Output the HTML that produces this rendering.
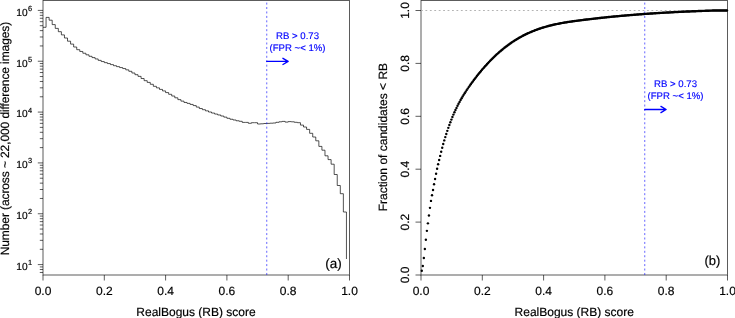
<!DOCTYPE html>
<html><head><meta charset="utf-8"><style>
html,body{margin:0;padding:0;background:#fff;width:735px;height:318px;overflow:hidden}
svg{display:block;will-change:transform;text-rendering:geometricPrecision}
</style></head><body>
<svg width="735" height="318" viewBox="0 0 735 318">
<rect width="735" height="318" fill="#fff"/>
<rect x="43.0" y="0.4" width="306.5" height="274.6" stroke="#000" stroke-width="0.8" stroke-opacity="0.8" fill="none"/>
<path d="M43.00,275.0 V280.5 M104.30,275.0 V280.5 M165.60,275.0 V280.5 M226.90,275.0 V280.5 M288.20,275.0 V280.5 M349.50,275.0 V280.5 M37.8,264.60 H43.0 M37.8,213.76 H43.0 M37.8,162.92 H43.0 M37.8,112.08 H43.0 M37.8,61.24 H43.0 M37.8,10.40 H43.0 M39.8,272.48 H43.0 M39.8,269.53 H43.0 M39.8,266.93 H43.0 M39.8,249.30 H43.0 M39.8,240.34 H43.0 M39.8,233.99 H43.0 M39.8,229.06 H43.0 M39.8,225.04 H43.0 M39.8,221.64 H43.0 M39.8,218.69 H43.0 M39.8,216.09 H43.0 M39.8,198.46 H43.0 M39.8,189.50 H43.0 M39.8,183.15 H43.0 M39.8,178.22 H43.0 M39.8,174.20 H43.0 M39.8,170.80 H43.0 M39.8,167.85 H43.0 M39.8,165.25 H43.0 M39.8,147.62 H43.0 M39.8,138.66 H43.0 M39.8,132.31 H43.0 M39.8,127.38 H43.0 M39.8,123.36 H43.0 M39.8,119.96 H43.0 M39.8,117.01 H43.0 M39.8,114.41 H43.0 M39.8,96.78 H43.0 M39.8,87.82 H43.0 M39.8,81.47 H43.0 M39.8,76.54 H43.0 M39.8,72.52 H43.0 M39.8,69.12 H43.0 M39.8,66.17 H43.0 M39.8,63.57 H43.0 M39.8,45.94 H43.0 M39.8,36.98 H43.0 M39.8,30.63 H43.0 M39.8,25.70 H43.0 M39.8,21.68 H43.0 M39.8,18.28 H43.0 M39.8,15.33 H43.0 M39.8,12.73 H43.0" stroke="#000" stroke-width="0.8" stroke-opacity="0.8" fill="none"/>
<path d="M43.00,27.30 L46.06,27.30 L46.06,17.40 L49.13,17.40 L49.13,20.20 L52.20,20.20 L52.20,24.60 L55.26,24.60 L55.26,28.40 L58.33,28.40 L58.33,31.70 L61.39,31.70 L61.39,34.90 L64.45,34.90 L64.45,38.00 L67.52,38.00 L67.52,41.20 L70.59,41.20 L70.59,44.10 L73.65,44.10 L73.65,47.00 L76.72,47.00 L76.72,49.70 L79.78,49.70 L79.78,51.46 L82.84,51.46 L82.84,53.24 L85.91,53.24 L85.91,54.82 L88.97,54.82 L88.97,56.31 L92.04,56.31 L92.04,57.60 L95.10,57.60 L95.10,58.95 L98.17,58.95 L98.17,60.36 L101.23,60.36 L101.23,61.55 L104.30,61.55 L104.30,62.65 L107.36,62.65 L107.36,63.57 L110.43,63.57 L110.43,64.61 L113.50,64.61 L113.50,65.71 L116.56,65.71 L116.56,66.63 L119.62,66.63 L119.62,67.57 L122.69,67.57 L122.69,68.55 L125.75,68.55 L125.75,69.85 L128.82,69.85 L128.82,71.30 L131.88,71.30 L131.88,73.01 L134.95,73.01 L134.95,74.70 L138.01,74.70 L138.01,76.36 L141.08,76.36 L141.08,78.53 L144.14,78.53 L144.14,80.68 L147.21,80.68 L147.21,82.40 L150.27,82.40 L150.27,84.29 L153.34,84.29 L153.34,86.32 L156.41,86.32 L156.41,87.87 L159.47,87.87 L159.47,89.40 L162.53,89.40 L162.53,90.93 L165.60,90.93 L165.60,92.59 L168.66,92.59 L168.66,94.31 L171.73,94.31 L171.73,96.03 L174.79,96.03 L174.79,97.80 L177.86,97.80 L177.86,99.64 L180.93,99.64 L180.93,101.13 L183.99,101.13 L183.99,102.46 L187.06,102.46 L187.06,103.38 L190.12,103.38 L190.12,104.43 L193.19,104.43 L193.19,105.59 L196.25,105.59 L196.25,107.09 L199.31,107.09 L199.31,108.52 L202.38,108.52 L202.38,109.69 L205.44,109.69 L205.44,110.85 L208.51,110.85 L208.51,112.01 L211.57,112.01 L211.57,113.06 L214.64,113.06 L214.64,114.05 L217.70,114.05 L217.70,114.97 L220.77,114.97 L220.77,116.03 L223.84,116.03 L223.84,117.14 L226.90,117.14 L226.90,118.30 L229.97,118.30 L229.97,119.26 L233.03,119.26 L233.03,119.99 L236.09,119.99 L236.09,120.78 L239.16,120.78 L239.16,121.30 L242.22,121.30 L242.22,122.40 L245.29,122.40 L245.29,122.40 L248.35,122.40 L248.35,123.30 L251.42,123.30 L251.42,122.70 L254.48,122.70 L254.48,122.70 L257.55,122.70 L257.55,124.00 L260.62,124.00 L260.62,123.80 L263.68,123.80 L263.68,123.50 L266.75,123.50 L266.75,123.40 L269.81,123.40 L269.81,123.20 L272.88,123.20 L272.88,123.00 L275.94,123.00 L275.94,122.30 L279.00,122.30 L279.00,121.80 L282.07,121.80 L282.07,121.40 L285.13,121.40 L285.13,122.10 L288.20,122.10 L288.20,121.60 L291.26,121.60 L291.26,121.80 L294.33,121.80 L294.33,122.30 L297.39,122.30 L297.39,122.70 L300.46,122.70 L300.46,125.10 L303.52,125.10 L303.52,127.00 L306.59,127.00 L306.59,129.40 L309.65,129.40 L309.65,133.30 L312.72,133.30 L312.72,137.00 L315.78,137.00 L315.78,140.80 L318.85,140.80 L318.85,146.40 L321.92,146.40 L321.92,150.20 L324.98,150.20 L324.98,155.80 L328.05,155.80 L328.05,159.60 L331.11,159.60 L331.11,164.20 L334.18,164.20 L334.18,174.50 L337.24,174.50 L337.24,185.50 L340.31,185.50 L340.31,193.70 L343.37,193.70 L343.37,212.00 L346.44,212.00 L346.44,259.00" stroke="#000" stroke-width="0.8" fill="none" opacity="0.85"/>
<line x1="266.75" y1="0.4" x2="266.75" y2="275.0" stroke="#0000ff" stroke-width="0.85" stroke-opacity="0.72" stroke-dasharray="2.0 2.432" stroke-dashoffset="2.23"/>
<g font-family="Liberation Sans, sans-serif" stroke="#000" stroke-width="0.22" stroke-opacity="0.8" font-size="12" fill="#000"><text x="43.00" y="294.6" text-anchor="middle">0.0</text><text x="104.30" y="294.6" text-anchor="middle">0.2</text><text x="165.60" y="294.6" text-anchor="middle">0.4</text><text x="226.90" y="294.6" text-anchor="middle">0.6</text><text x="288.20" y="294.6" text-anchor="middle">0.8</text><text x="349.50" y="294.6" text-anchor="middle">1.0</text><text x="27.6" y="269.90" text-anchor="end" font-size="10.2">10</text><text x="28.1" y="265.10" font-size="7.4">1</text><text x="27.6" y="219.06" text-anchor="end" font-size="10.2">10</text><text x="28.1" y="214.26" font-size="7.4">2</text><text x="27.6" y="168.22" text-anchor="end" font-size="10.2">10</text><text x="28.1" y="163.42" font-size="7.4">3</text><text x="27.6" y="117.38" text-anchor="end" font-size="10.2">10</text><text x="28.1" y="112.58" font-size="7.4">4</text><text x="27.6" y="66.54" text-anchor="end" font-size="10.2">10</text><text x="28.1" y="61.74" font-size="7.4">5</text><text x="27.6" y="15.70" text-anchor="end" font-size="10.2">10</text><text x="28.1" y="10.90" font-size="7.4">6</text></g>
<text x="196" y="315.6" text-anchor="middle" font-family="Liberation Sans, sans-serif" stroke="#000" stroke-width="0.22" stroke-opacity="0.8" font-size="12">RealBogus (RB) score</text>
<text transform="translate(9.3,138.6) rotate(-90)" text-anchor="middle" font-family="Liberation Sans, sans-serif" stroke="#000" stroke-width="0.22" stroke-opacity="0.8" font-size="12" letter-spacing="-0.1">Number (across ~ 22,000 difference images)</text>
<text x="341.8" y="268.0" text-anchor="end" font-family="Liberation Sans, sans-serif" stroke="#000" stroke-width="0.22" stroke-opacity="0.8" font-size="13.5">(a)</text>
<g font-family="Liberation Sans, sans-serif" font-size="9.6" fill="#0000ff" stroke="#0000ff" stroke-width="0.15" text-anchor="middle"><text x="297.55" y="38.9">RB &gt; 0.73</text><text x="297.55" y="50.8">(FPR ~&lt; 1%)</text></g><path d="M266.75,61.4 H287.94 M282.94,58.3 L288.14,61.4 L282.94,64.5" stroke="#0000ff" stroke-width="1.35" stroke-linejoin="round" stroke-linecap="round" fill="none"/>
<rect x="421.0" y="0.4" width="306.5" height="274.6" stroke="#000" stroke-width="0.8" stroke-opacity="0.8" fill="none"/>
<path d="M421.00,275.0 V280.5 M415.5,275.00 H421.0 M482.30,275.0 V280.5 M415.5,222.10 H421.0 M543.60,275.0 V280.5 M415.5,169.20 H421.0 M604.90,275.0 V280.5 M415.5,116.30 H421.0 M666.20,275.0 V280.5 M415.5,63.40 H421.0 M727.50,275.0 V280.5 M415.5,10.50 H421.0" stroke="#000" stroke-width="0.8" stroke-opacity="0.8" fill="none"/>
<line x1="421.0" y1="10.50" x2="727.5" y2="10.50" stroke="#aaa" stroke-width="0.9" stroke-dasharray="1.8 2.632" stroke-dashoffset="0.0"/>
<line x1="644.75" y1="0.4" x2="644.75" y2="275.0" stroke="#0000ff" stroke-width="0.85" stroke-opacity="0.72" stroke-dasharray="2.0 2.432" stroke-dashoffset="2.23"/>
<g fill="#000"><circle cx="421.80" cy="270.80" r="1.2"/><circle cx="422.82" cy="266.06" r="1.2"/><circle cx="423.84" cy="258.00" r="1.2"/><circle cx="424.86" cy="249.04" r="1.2"/><circle cx="425.88" cy="239.75" r="1.2"/><circle cx="426.90" cy="230.87" r="1.2"/><circle cx="427.92" cy="223.37" r="1.2"/><circle cx="428.94" cy="215.52" r="1.2"/><circle cx="429.97" cy="207.85" r="1.2"/><circle cx="430.99" cy="200.88" r="1.2"/><circle cx="432.01" cy="195.31" r="1.2"/><circle cx="433.03" cy="190.04" r="1.2"/><circle cx="434.05" cy="184.30" r="1.2"/><circle cx="435.07" cy="178.97" r="1.2"/><circle cx="436.09" cy="173.76" r="1.2"/><circle cx="437.11" cy="168.68" r="1.2"/><circle cx="438.13" cy="164.22" r="1.2"/><circle cx="439.15" cy="160.02" r="1.2"/><circle cx="440.17" cy="155.89" r="1.2"/><circle cx="441.19" cy="151.81" r="1.2"/><circle cx="442.21" cy="147.78" r="1.2"/><circle cx="443.23" cy="143.93" r="1.2"/><circle cx="444.26" cy="140.40" r="1.2"/><circle cx="445.28" cy="137.12" r="1.2"/><circle cx="446.30" cy="134.00" r="1.2"/><circle cx="447.32" cy="130.86" r="1.2"/><circle cx="448.34" cy="127.86" r="1.2"/><circle cx="449.36" cy="124.99" r="1.2"/><circle cx="450.38" cy="122.23" r="1.2"/><circle cx="451.40" cy="119.59" r="1.2"/><circle cx="452.42" cy="117.06" r="1.2"/><circle cx="453.44" cy="114.62" r="1.2"/><circle cx="454.46" cy="112.29" r="1.2"/><circle cx="455.48" cy="110.04" r="1.2"/><circle cx="456.50" cy="107.88" r="1.2"/><circle cx="457.52" cy="105.81" r="1.2"/><circle cx="458.55" cy="103.81" r="1.2"/><circle cx="459.57" cy="101.89" r="1.2"/><circle cx="460.59" cy="100.04" r="1.2"/><circle cx="461.61" cy="98.25" r="1.2"/><circle cx="462.63" cy="96.51" r="1.2"/><circle cx="463.65" cy="94.84" r="1.2"/><circle cx="464.67" cy="93.21" r="1.2"/><circle cx="465.69" cy="91.63" r="1.2"/><circle cx="466.71" cy="90.08" r="1.2"/><circle cx="467.73" cy="88.58" r="1.2"/><circle cx="468.75" cy="87.10" r="1.2"/><circle cx="469.77" cy="85.65" r="1.2"/><circle cx="470.79" cy="84.22" r="1.2"/><circle cx="471.81" cy="82.82" r="1.2"/><circle cx="472.84" cy="81.43" r="1.2"/><circle cx="473.86" cy="80.06" r="1.2"/><circle cx="474.88" cy="78.71" r="1.2"/><circle cx="475.90" cy="77.38" r="1.2"/><circle cx="476.92" cy="76.07" r="1.2"/><circle cx="477.94" cy="74.78" r="1.2"/><circle cx="478.96" cy="73.51" r="1.2"/><circle cx="479.98" cy="72.26" r="1.2"/><circle cx="481.00" cy="71.03" r="1.2"/><circle cx="482.02" cy="69.82" r="1.2"/><circle cx="483.04" cy="68.62" r="1.2"/><circle cx="484.06" cy="67.45" r="1.2"/><circle cx="485.08" cy="66.29" r="1.2"/><circle cx="486.10" cy="65.16" r="1.2"/><circle cx="487.12" cy="64.04" r="1.2"/><circle cx="488.15" cy="62.94" r="1.2"/><circle cx="489.17" cy="61.86" r="1.2"/><circle cx="490.19" cy="60.79" r="1.2"/><circle cx="491.21" cy="59.75" r="1.2"/><circle cx="492.23" cy="58.72" r="1.2"/><circle cx="493.25" cy="57.71" r="1.2"/><circle cx="494.27" cy="56.72" r="1.2"/><circle cx="495.29" cy="55.75" r="1.2"/><circle cx="496.31" cy="54.79" r="1.2"/><circle cx="497.33" cy="53.86" r="1.2"/><circle cx="498.35" cy="52.94" r="1.2"/><circle cx="499.37" cy="52.03" r="1.2"/><circle cx="500.39" cy="51.15" r="1.2"/><circle cx="501.41" cy="50.28" r="1.2"/><circle cx="502.44" cy="49.43" r="1.2"/><circle cx="503.46" cy="48.60" r="1.2"/><circle cx="504.48" cy="47.78" r="1.2"/><circle cx="505.50" cy="46.98" r="1.2"/><circle cx="506.52" cy="46.20" r="1.2"/><circle cx="507.54" cy="45.43" r="1.2"/><circle cx="508.56" cy="44.68" r="1.2"/><circle cx="509.58" cy="43.95" r="1.2"/><circle cx="510.60" cy="43.23" r="1.2"/><circle cx="511.62" cy="42.53" r="1.2"/><circle cx="512.64" cy="41.84" r="1.2"/><circle cx="513.66" cy="41.17" r="1.2"/><circle cx="514.68" cy="40.52" r="1.2"/><circle cx="515.70" cy="39.88" r="1.2"/><circle cx="516.73" cy="39.25" r="1.2"/><circle cx="517.75" cy="38.64" r="1.2"/><circle cx="518.77" cy="38.05" r="1.2"/><circle cx="519.79" cy="37.46" r="1.2"/><circle cx="520.81" cy="36.90" r="1.2"/><circle cx="521.83" cy="36.34" r="1.2"/><circle cx="522.85" cy="35.80" r="1.2"/><circle cx="523.87" cy="35.27" r="1.2"/><circle cx="524.89" cy="34.76" r="1.2"/><circle cx="525.91" cy="34.26" r="1.2"/><circle cx="526.93" cy="33.77" r="1.2"/><circle cx="527.95" cy="33.29" r="1.2"/><circle cx="528.97" cy="32.83" r="1.2"/><circle cx="529.99" cy="32.37" r="1.2"/><circle cx="531.01" cy="31.93" r="1.2"/><circle cx="532.04" cy="31.50" r="1.2"/><circle cx="533.06" cy="31.08" r="1.2"/><circle cx="534.08" cy="30.68" r="1.2"/><circle cx="535.10" cy="30.28" r="1.2"/><circle cx="536.12" cy="29.90" r="1.2"/><circle cx="537.14" cy="29.52" r="1.2"/><circle cx="538.16" cy="29.16" r="1.2"/><circle cx="539.18" cy="28.80" r="1.2"/><circle cx="540.20" cy="28.46" r="1.2"/><circle cx="541.22" cy="28.12" r="1.2"/><circle cx="542.24" cy="27.79" r="1.2"/><circle cx="543.26" cy="27.48" r="1.2"/><circle cx="544.28" cy="27.17" r="1.2"/><circle cx="545.30" cy="26.87" r="1.2"/><circle cx="546.33" cy="26.58" r="1.2"/><circle cx="547.35" cy="26.30" r="1.2"/><circle cx="548.37" cy="26.02" r="1.2"/><circle cx="549.39" cy="25.76" r="1.2"/><circle cx="550.41" cy="25.50" r="1.2"/><circle cx="551.43" cy="25.25" r="1.2"/><circle cx="552.45" cy="25.00" r="1.2"/><circle cx="553.47" cy="24.76" r="1.2"/><circle cx="554.49" cy="24.53" r="1.2"/><circle cx="555.51" cy="24.31" r="1.2"/><circle cx="556.53" cy="24.09" r="1.2"/><circle cx="557.55" cy="23.88" r="1.2"/><circle cx="558.57" cy="23.68" r="1.2"/><circle cx="559.59" cy="23.48" r="1.2"/><circle cx="560.62" cy="23.28" r="1.2"/><circle cx="561.64" cy="23.09" r="1.2"/><circle cx="562.66" cy="22.91" r="1.2"/><circle cx="563.68" cy="22.73" r="1.2"/><circle cx="564.70" cy="22.55" r="1.2"/><circle cx="565.72" cy="22.38" r="1.2"/><circle cx="566.74" cy="22.22" r="1.2"/><circle cx="567.76" cy="22.06" r="1.2"/><circle cx="568.78" cy="21.90" r="1.2"/><circle cx="569.80" cy="21.74" r="1.2"/><circle cx="570.82" cy="21.59" r="1.2"/><circle cx="571.84" cy="21.44" r="1.2"/><circle cx="572.86" cy="21.30" r="1.2"/><circle cx="573.88" cy="21.15" r="1.2"/><circle cx="574.90" cy="21.01" r="1.2"/><circle cx="575.93" cy="20.88" r="1.2"/><circle cx="576.95" cy="20.74" r="1.2"/><circle cx="577.97" cy="20.60" r="1.2"/><circle cx="578.99" cy="20.47" r="1.2"/><circle cx="580.01" cy="20.34" r="1.2"/><circle cx="581.03" cy="20.21" r="1.2"/><circle cx="582.05" cy="20.08" r="1.2"/><circle cx="583.07" cy="19.95" r="1.2"/><circle cx="584.09" cy="19.82" r="1.2"/><circle cx="585.11" cy="19.70" r="1.2"/><circle cx="586.13" cy="19.57" r="1.2"/><circle cx="587.15" cy="19.45" r="1.2"/><circle cx="588.17" cy="19.33" r="1.2"/><circle cx="589.19" cy="19.20" r="1.2"/><circle cx="590.22" cy="19.08" r="1.2"/><circle cx="591.24" cy="18.96" r="1.2"/><circle cx="592.26" cy="18.84" r="1.2"/><circle cx="593.28" cy="18.73" r="1.2"/><circle cx="594.30" cy="18.61" r="1.2"/><circle cx="595.32" cy="18.49" r="1.2"/><circle cx="596.34" cy="18.38" r="1.2"/><circle cx="597.36" cy="18.26" r="1.2"/><circle cx="598.38" cy="18.15" r="1.2"/><circle cx="599.40" cy="18.04" r="1.2"/><circle cx="600.42" cy="17.93" r="1.2"/><circle cx="601.44" cy="17.82" r="1.2"/><circle cx="602.46" cy="17.71" r="1.2"/><circle cx="603.48" cy="17.60" r="1.2"/><circle cx="604.51" cy="17.49" r="1.2"/><circle cx="605.53" cy="17.38" r="1.2"/><circle cx="606.55" cy="17.28" r="1.2"/><circle cx="607.57" cy="17.17" r="1.2"/><circle cx="608.59" cy="17.07" r="1.2"/><circle cx="609.61" cy="16.97" r="1.2"/><circle cx="610.63" cy="16.87" r="1.2"/><circle cx="611.65" cy="16.77" r="1.2"/><circle cx="612.67" cy="16.67" r="1.2"/><circle cx="613.69" cy="16.57" r="1.2"/><circle cx="614.71" cy="16.47" r="1.2"/><circle cx="615.73" cy="16.37" r="1.2"/><circle cx="616.75" cy="16.28" r="1.2"/><circle cx="617.77" cy="16.18" r="1.2"/><circle cx="618.80" cy="16.09" r="1.2"/><circle cx="619.82" cy="15.99" r="1.2"/><circle cx="620.84" cy="15.90" r="1.2"/><circle cx="621.86" cy="15.81" r="1.2"/><circle cx="622.88" cy="15.72" r="1.2"/><circle cx="623.90" cy="15.63" r="1.2"/><circle cx="624.92" cy="15.54" r="1.2"/><circle cx="625.94" cy="15.45" r="1.2"/><circle cx="626.96" cy="15.36" r="1.2"/><circle cx="627.98" cy="15.27" r="1.2"/><circle cx="629.00" cy="15.19" r="1.2"/><circle cx="630.02" cy="15.10" r="1.2"/><circle cx="631.04" cy="15.02" r="1.2"/><circle cx="632.06" cy="14.94" r="1.2"/><circle cx="633.08" cy="14.85" r="1.2"/><circle cx="634.11" cy="14.77" r="1.2"/><circle cx="635.13" cy="14.69" r="1.2"/><circle cx="636.15" cy="14.61" r="1.2"/><circle cx="637.17" cy="14.53" r="1.2"/><circle cx="638.19" cy="14.45" r="1.2"/><circle cx="639.21" cy="14.37" r="1.2"/><circle cx="640.23" cy="14.30" r="1.2"/><circle cx="641.25" cy="14.22" r="1.2"/><circle cx="642.27" cy="14.15" r="1.2"/><circle cx="643.29" cy="14.07" r="1.2"/><circle cx="644.31" cy="14.00" r="1.2"/><circle cx="645.33" cy="13.92" r="1.2"/><circle cx="646.35" cy="13.85" r="1.2"/><circle cx="647.37" cy="13.78" r="1.2"/><circle cx="648.40" cy="13.71" r="1.2"/><circle cx="649.42" cy="13.64" r="1.2"/><circle cx="650.44" cy="13.57" r="1.2"/><circle cx="651.46" cy="13.50" r="1.2"/><circle cx="652.48" cy="13.43" r="1.2"/><circle cx="653.50" cy="13.37" r="1.2"/><circle cx="654.52" cy="13.30" r="1.2"/><circle cx="655.54" cy="13.23" r="1.2"/><circle cx="656.56" cy="13.17" r="1.2"/><circle cx="657.58" cy="13.10" r="1.2"/><circle cx="658.60" cy="13.04" r="1.2"/><circle cx="659.62" cy="12.98" r="1.2"/><circle cx="660.64" cy="12.92" r="1.2"/><circle cx="661.66" cy="12.85" r="1.2"/><circle cx="662.69" cy="12.79" r="1.2"/><circle cx="663.71" cy="12.73" r="1.2"/><circle cx="664.73" cy="12.67" r="1.2"/><circle cx="665.75" cy="12.62" r="1.2"/><circle cx="666.77" cy="12.56" r="1.2"/><circle cx="667.79" cy="12.50" r="1.2"/><circle cx="668.81" cy="12.44" r="1.2"/><circle cx="669.83" cy="12.39" r="1.2"/><circle cx="670.85" cy="12.33" r="1.2"/><circle cx="671.87" cy="12.28" r="1.2"/><circle cx="672.89" cy="12.22" r="1.2"/><circle cx="673.91" cy="12.17" r="1.2"/><circle cx="674.93" cy="12.12" r="1.2"/><circle cx="675.95" cy="12.06" r="1.2"/><circle cx="676.98" cy="12.01" r="1.2"/><circle cx="678.00" cy="11.96" r="1.2"/><circle cx="679.02" cy="11.91" r="1.2"/><circle cx="680.04" cy="11.86" r="1.2"/><circle cx="681.06" cy="11.81" r="1.2"/><circle cx="682.08" cy="11.76" r="1.2"/><circle cx="683.10" cy="11.71" r="1.2"/><circle cx="684.12" cy="11.67" r="1.2"/><circle cx="685.14" cy="11.62" r="1.2"/><circle cx="686.16" cy="11.57" r="1.2"/><circle cx="687.18" cy="11.53" r="1.2"/><circle cx="688.20" cy="11.48" r="1.2"/><circle cx="689.22" cy="11.44" r="1.2"/><circle cx="690.24" cy="11.39" r="1.2"/><circle cx="691.26" cy="11.35" r="1.2"/><circle cx="692.29" cy="11.31" r="1.2"/><circle cx="693.31" cy="11.26" r="1.2"/><circle cx="694.33" cy="11.22" r="1.2"/><circle cx="695.35" cy="11.18" r="1.2"/><circle cx="696.37" cy="11.14" r="1.2"/><circle cx="697.39" cy="11.10" r="1.2"/><circle cx="698.41" cy="11.06" r="1.2"/><circle cx="699.43" cy="11.02" r="1.2"/><circle cx="700.45" cy="10.98" r="1.2"/><circle cx="701.47" cy="10.94" r="1.2"/><circle cx="702.49" cy="10.90" r="1.2"/><circle cx="703.51" cy="10.87" r="1.2"/><circle cx="704.53" cy="10.83" r="1.2"/><circle cx="705.55" cy="10.79" r="1.2"/><circle cx="706.58" cy="10.76" r="1.2"/><circle cx="707.60" cy="10.72" r="1.2"/><circle cx="708.62" cy="10.69" r="1.2"/><circle cx="709.64" cy="10.65" r="1.2"/><circle cx="710.66" cy="10.62" r="1.2"/><circle cx="711.68" cy="10.59" r="1.2"/><circle cx="712.70" cy="10.55" r="1.2"/><circle cx="713.72" cy="10.55" r="1.2"/><circle cx="714.74" cy="10.55" r="1.2"/><circle cx="715.76" cy="10.55" r="1.2"/><circle cx="716.78" cy="10.55" r="1.2"/><circle cx="717.80" cy="10.55" r="1.2"/><circle cx="718.82" cy="10.55" r="1.2"/><circle cx="719.84" cy="10.55" r="1.2"/><circle cx="720.87" cy="10.55" r="1.2"/><circle cx="721.89" cy="10.55" r="1.2"/><circle cx="722.91" cy="10.55" r="1.2"/><circle cx="723.93" cy="10.55" r="1.2"/><circle cx="724.95" cy="10.55" r="1.2"/><circle cx="725.97" cy="10.55" r="1.2"/><circle cx="726.99" cy="10.55" r="1.2"/></g>
<g font-family="Liberation Sans, sans-serif" stroke="#000" stroke-width="0.22" stroke-opacity="0.8" font-size="12" fill="#000"><text x="421.00" y="294.6" text-anchor="middle">0.0</text><text transform="translate(408.5,275.00) rotate(-90)" text-anchor="middle">0.0</text><text x="482.30" y="294.6" text-anchor="middle">0.2</text><text transform="translate(408.5,222.10) rotate(-90)" text-anchor="middle">0.2</text><text x="543.60" y="294.6" text-anchor="middle">0.4</text><text transform="translate(408.5,169.20) rotate(-90)" text-anchor="middle">0.4</text><text x="604.90" y="294.6" text-anchor="middle">0.6</text><text transform="translate(408.5,116.30) rotate(-90)" text-anchor="middle">0.6</text><text x="666.20" y="294.6" text-anchor="middle">0.8</text><text transform="translate(408.5,63.40) rotate(-90)" text-anchor="middle">0.8</text><text x="727.50" y="294.6" text-anchor="middle">1.0</text><text transform="translate(408.5,10.50) rotate(-90)" text-anchor="middle">1.0</text></g>
<text x="574.25" y="315.6" text-anchor="middle" font-family="Liberation Sans, sans-serif" stroke="#000" stroke-width="0.22" stroke-opacity="0.8" font-size="12">RealBogus (RB) score</text>
<text transform="translate(387,137.1) rotate(-90)" text-anchor="middle" font-family="Liberation Sans, sans-serif" stroke="#000" stroke-width="0.22" stroke-opacity="0.8" font-size="12">Fraction of candidates &lt; RB</text>
<text x="720.3" y="264.8" text-anchor="end" font-family="Liberation Sans, sans-serif" stroke="#000" stroke-width="0.22" stroke-opacity="0.8" font-size="13">(b)</text>
<g font-family="Liberation Sans, sans-serif" font-size="9.6" fill="#0000ff" stroke="#0000ff" stroke-width="0.15" text-anchor="middle"><text x="675.54" y="87.2">RB &gt; 0.73</text><text x="675.54" y="99.2">(FPR ~&lt; 1%)</text></g><path d="M644.75,109.5 H665.95 M660.95,106.4 L666.14,109.5 L660.95,112.6" stroke="#0000ff" stroke-width="1.35" stroke-linejoin="round" stroke-linecap="round" fill="none"/>
</svg>
</body></html>
